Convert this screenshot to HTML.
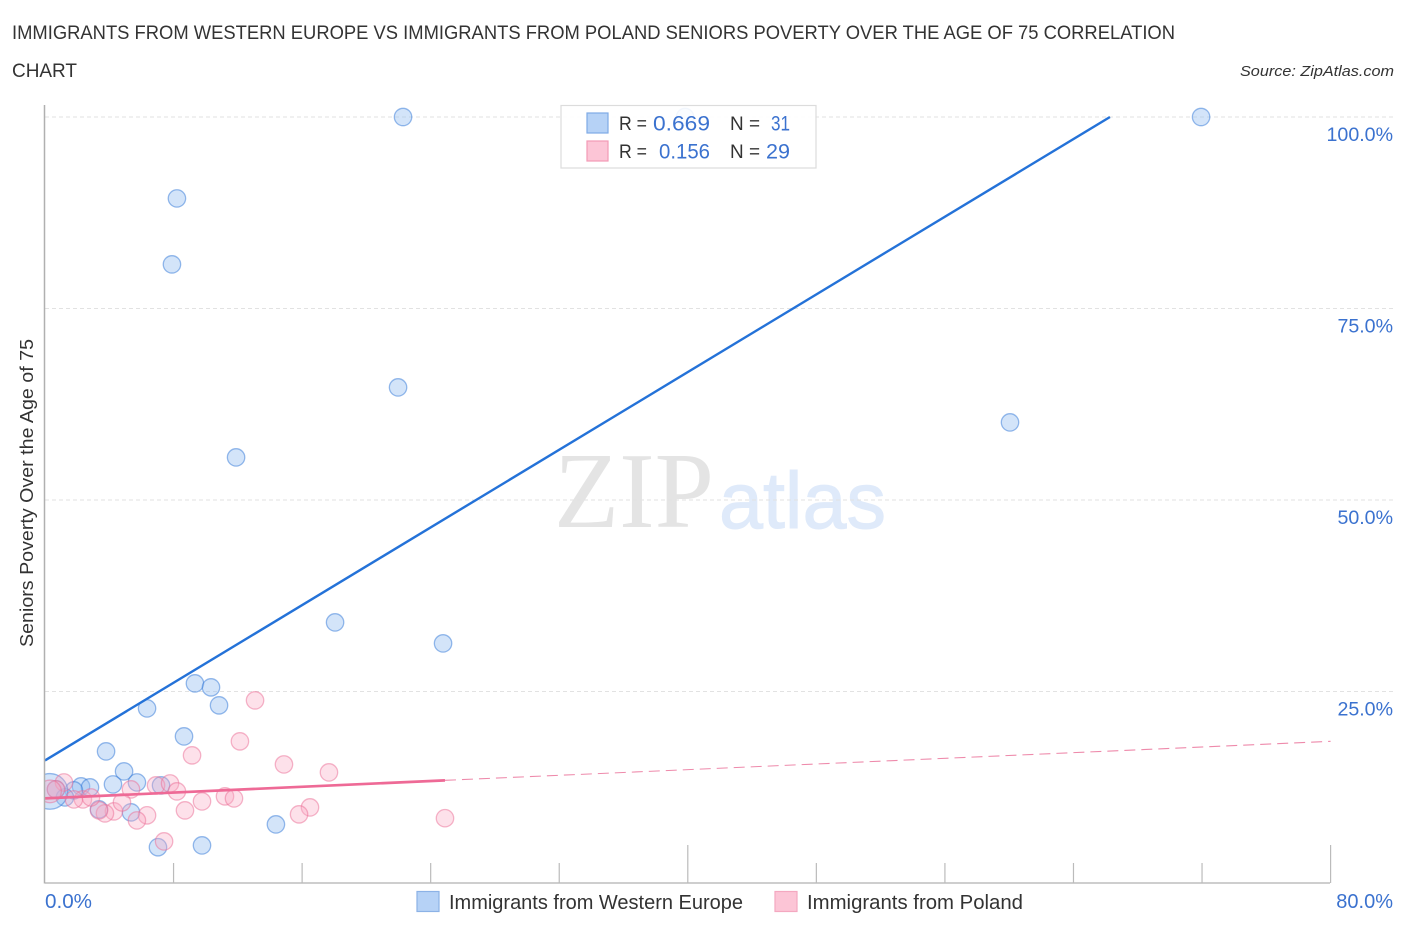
<!DOCTYPE html>
<html lang="en">
<head>
<meta charset="utf-8">
<title>Seniors Poverty Correlation Chart</title>
<style>
html,body{margin:0;padding:0;background:#fff;width:1406px;height:930px;overflow:hidden}
svg{display:block;font-family:"Liberation Sans",sans-serif}
</style>
</head>
<body>
<svg id="chart" xmlns="http://www.w3.org/2000/svg" width="1406" height="930" viewBox="0 0 1406 930">
  <defs>
    <clipPath id="plot-clip"><rect x="45" y="100" width="1300" height="783"/></clipPath>
  </defs>
  <text x="12" y="39" font-size="19" fill="#333" textLength="1163" lengthAdjust="spacingAndGlyphs">IMMIGRANTS FROM WESTERN EUROPE VS IMMIGRANTS FROM POLAND SENIORS POVERTY OVER THE AGE OF 75 CORRELATION</text>
  <text x="12" y="77" font-size="19" fill="#333" textLength="65" lengthAdjust="spacingAndGlyphs">CHART</text>
  <text x="1394" y="76" font-size="15" font-style="italic" fill="#333" text-anchor="end" textLength="154" lengthAdjust="spacingAndGlyphs">Source: ZipAtlas.com</text>

  <g>
    <text x="554" y="527" font-family="'Liberation Serif',serif" font-size="108" fill="#e4e4e4" textLength="160" lengthAdjust="spacingAndGlyphs">ZIP</text>
    <text x="719" y="528" font-family="'Liberation Sans',sans-serif" font-size="80" fill="#dfeafa" stroke="#dfeafa" stroke-width="1" textLength="167" lengthAdjust="spacingAndGlyphs">atlas</text>
  </g>

  <g id="grid"></g>
  <g id="points" clip-path="url(#plot-clip)"></g>
  <g id="trends"></g>
  <g id="axes"></g>

  <text transform="translate(33,493) rotate(-90)" font-size="18.5" fill="#333" text-anchor="middle" textLength="308" lengthAdjust="spacingAndGlyphs">Seniors Poverty Over the Age of 75</text>

  <g>
    <rect x="561" y="105.500" width="255" height="62.500" fill="#fff" fill-opacity="0.88" stroke="#dcdcdc" stroke-width="1.200"/>
    <rect x="587" y="113" width="21" height="20" fill="#b6d2f6" stroke="#7fabe6" stroke-width="1.200"/>
    <rect x="587" y="141" width="21" height="20" fill="#fcc5d6" stroke="#f29ab6" stroke-width="1.200"/>
    <g font-size="19.500" fill="#333">
      <text x="619" y="130" textLength="28" lengthAdjust="spacingAndGlyphs">R =</text>
      <text x="619" y="158" textLength="28" lengthAdjust="spacingAndGlyphs">R =</text>
      <text x="730" y="130" textLength="30" lengthAdjust="spacingAndGlyphs">N =</text>
      <text x="730" y="158" textLength="30" lengthAdjust="spacingAndGlyphs">N =</text>
    </g>
    <g font-size="21" fill="#3b72cf">
      <text x="653" y="130.500" textLength="57" lengthAdjust="spacingAndGlyphs">0.669</text>
      <text x="659" y="158.500" textLength="51" lengthAdjust="spacingAndGlyphs">0.156</text>
      <text x="771" y="130.500" textLength="19" lengthAdjust="spacingAndGlyphs">31</text>
      <text x="766" y="158.500" textLength="24" lengthAdjust="spacingAndGlyphs">29</text>
    </g>
  </g>

  <g>
    <rect x="417" y="891.500" width="22" height="20" fill="#b6d2f6" stroke="#8cb2e6" stroke-width="1.200"/>
    <text x="449" y="909" font-size="20" fill="#333" textLength="294" lengthAdjust="spacingAndGlyphs">Immigrants from Western Europe</text>
    <rect x="775" y="891.500" width="22" height="20" fill="#fcc5d6" stroke="#f4a8c0" stroke-width="1.200"/>
    <text x="807" y="909" font-size="20" fill="#333" textLength="216" lengthAdjust="spacingAndGlyphs">Immigrants from Poland</text>
  </g>
</svg>
<script>
var yTicks = [100, 75, 50, 25];
var yTickLabels = ["100.0%", "75.0%", "50.0%", "25.0%"];
var xTicks = [0, 8, 16, 24, 32, 40, 48, 56, 64, 72, 80];
var xMajorTicks = [40, 80];
var xEndLabels = ["0.0%", "80.0%"];

var westernEuropeX = [22.28, 39.83, 71.94, 8.21, 7.90, 21.97, 60.05, 11.89, 18.05, 24.77, 9.33, 10.33, 10.83, 6.35, 8.65, 3.80, 4.92, 4.23, 5.72, 7.22, 2.24, 2.80, 1.80, 0.68, 1.24, 0.31, 3.36, 5.35, 14.37, 7.03, 9.77];
var westernEuropeY = [100, 100, 100, 89.37, 80.76, 64.70, 60.13, 55.56, 34.02, 31.28, 26.06, 25.54, 23.19, 22.79, 19.14, 17.18, 14.57, 12.87, 13.13, 12.74, 12.61, 12.48, 12.09, 12.22, 11.17, 11.96, 9.61, 9.22, 7.65, 4.67, 4.91];
var westernEuropeWeight = [1, 1, 1, 1, 1, 1, 1, 1, 1, 1, 1, 1, 1, 1, 1, 1, 1, 1, 1, 1, 1, 1, 1, 1, 1, 4.2, 1, 1, 1, 1, 1];

var polandX = [13.07, 12.13, 9.15, 14.87, 17.67, 5.35, 1.18, 6.91, 7.78, 8.21, 0.68, 0.31, 9.77, 11.20, 11.76, 8.71, 16.49, 15.81, 6.35, 5.72, 4.29, 4.79, 3.73, 3.36, 2.36, 1.80, 2.86, 7.41, 24.89];
var polandY = [23.84, 18.49, 16.66, 15.48, 14.44, 12.22, 13.13, 12.74, 13.00, 11.96, 12.22, 11.96, 10.65, 11.31, 11.04, 9.48, 9.87, 8.96, 8.83, 8.17, 9.35, 10.52, 9.09, 9.48, 10.91, 10.91, 11.17, 5.43, 8.46];
var polandWeight = [1, 1, 1, 1, 1, 1, 1, 1, 1, 1, 1, 1.7, 1, 1, 1, 1, 1, 1, 1, 1, 1, 1, 1, 1, 1, 1, 1, 1, 1];

var westernEuropeTrendX = [0, 66.27];
var westernEuropeTrendY = [16, 100];
var polandTrendX = [0, 24.89];
var polandTrendY = [11.05, 13.4];
var polandForecastX = [24.89, 80];
var polandForecastY = [13.4, 18.5];

var NS = 'http://www.w3.org/2000/svg';
function xScale(v) { return 45 + v * 16.07; }
function yScale(v) { return 883 - v * 7.66; }
function rScale(w) { return 8.7 * Math.sqrt(w); }
function make(tag, attrs, parent) {
  var el = document.createElementNS(NS, tag);
  for (var k in attrs) el.setAttribute(k, attrs[k]);
  parent.appendChild(el);
  return el;
}

var grid = document.getElementById('grid');
var axes = document.getElementById('axes');
var points = document.getElementById('points');
var trends = document.getElementById('trends');

yTicks.forEach(function (v, i) {
  var line = make('line', {x1: 45, x2: 1393, y1: yScale(v), y2: yScale(v), stroke: '#e2e2e2', 'stroke-width': 1, 'stroke-dasharray': '4 3'}, grid);
  
  
  var label = make('text', {x: 1393, y: yScale(v) + 24, 'font-size': 19.6, fill: '#3b72cf', 'text-anchor': 'end'}, axes);
  label.textContent = yTickLabels[i];
  
  
});
var baseGrid = make('line', {x1: 45, x2: 1330, y1: yScale(0), y2: yScale(0), stroke: '#bdbdbd', 'stroke-width': 1.6}, axes);


var yAxis = make('line', {x1: 44.5, x2: 44.5, y1: 105, y2: 883.5, stroke: '#b0b0b0', 'stroke-width': 1.5}, axes);



xTicks.forEach(function (v) {
  if (v === 0) return;
  var major = xMajorTicks.indexOf(v) >= 0;
  var tick = make('line', {x1: xScale(v), x2: xScale(v), y1: major ? 845 : 863, y2: 883, stroke: '#bbb', 'stroke-width': 1.2}, axes);
  
  
});
var xLabelLeft = make('text', {x: 45, y: 908, 'font-size': 20, fill: '#3b72cf', textLength: 47, lengthAdjust: 'spacingAndGlyphs'}, axes);
xLabelLeft.textContent = xEndLabels[0];


var xLabelRight = make('text', {x: 1393, y: 908, 'font-size': 20, fill: '#3b72cf', 'text-anchor': 'end'}, axes);
xLabelRight.textContent = xEndLabels[1];



westernEuropeX.forEach(function (v, i) {
  var c = make('circle', {cx: xScale(v), cy: yScale(westernEuropeY[i]), r: rScale(westernEuropeWeight[i]), fill: 'rgba(150,190,240,0.42)', stroke: 'rgba(50,120,215,0.5)', 'stroke-width': 1.3}, points);
  
  
});
polandX.forEach(function (v, i) {
  var c = make('circle', {cx: xScale(v), cy: yScale(polandY[i]), r: rScale(polandWeight[i]), fill: 'rgba(248,170,195,0.35)', stroke: 'rgba(235,110,150,0.5)', 'stroke-width': 1.3}, points);
  
  
});

var blueTrend = make('line', {x1: xScale(westernEuropeTrendX[0]), y1: yScale(westernEuropeTrendY[0]), x2: xScale(westernEuropeTrendX[1]), y2: yScale(westernEuropeTrendY[1]), stroke: '#2472d8', 'stroke-width': 2.4}, trends);


var pinkTrend = make('line', {x1: xScale(polandTrendX[0]), y1: yScale(polandTrendY[0]), x2: xScale(polandTrendX[1]), y2: yScale(polandTrendY[1]), stroke: '#ee6a96', 'stroke-width': 2.7}, trends);


var pinkForecast = make('line', {x1: xScale(polandForecastX[0]), y1: yScale(polandForecastY[0]), x2: xScale(polandForecastX[1]), y2: yScale(polandForecastY[1]), stroke: '#ee8aab', 'stroke-width': 1.1, 'stroke-dasharray': '11 6'}, trends);


</script>
</body>
</html>
